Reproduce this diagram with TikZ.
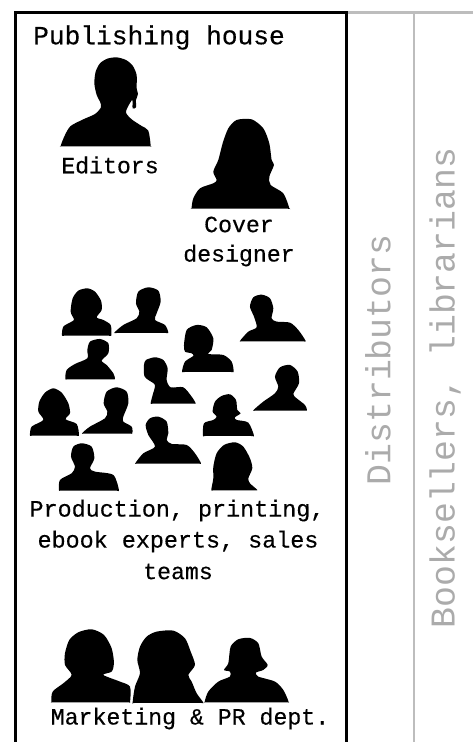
\documentclass[tikz,border=0pt]{standalone}
\usepackage{fontspec}
\setmonofont{Liberation Mono}
\newfontfamily\lblfont[FakeBold=0.35]{Liberation Mono}
\definecolor{rulegray}{HTML}{BDBDBD}
\definecolor{sidegray}{HTML}{ABABAB}
\tikzset{
  sil/.style={fill=black,draw=none},
  lbl/.style={inner sep=0pt,align=center,font=\lblfont\fontsize{23.2}{31}\selectfont,text=black},
  side/.style={inner sep=0pt,rotate=90,font=\ttfamily\fontsize{34.8}{36}\selectfont,text=sidegray},
  z1/.style={x=0.3333pt,y=-0.3333pt},
}
\newcommand{\silh}[1]{\fill[sil] plot[smooth cycle,tension=0.45] coordinates {#1};}
\begin{document}
\begin{tikzpicture}[x=1pt,y=-1pt]
\useasboundingbox (0,0) rectangle (473,742);
\fill[white] (0,0) rectangle (473,742);
% frames
\draw[rulegray,line width=2.6pt] (347,12.5) -- (473,12.5);
\draw[rulegray,line width=2.6pt] (414,12.5) -- (414,742);
\draw[black,line width=3pt] (15.5,742) -- (15.5,12.5) -- (346.5,12.5) -- (346.5,742);
% labels
\node[lbl,font=\lblfont\fontsize{26.2}{31}\selectfont] (title) at (159,37.5) {Publishing house};
\node[lbl] (editors) at (110,165) {Editors};
\node[lbl] (cover) at (239,224.5) {Cover};
\node[lbl] (designer) at (239,255.5) {designer};
\node[lbl,font=\lblfont\fontsize{23.4}{31}\selectfont] (prod) at (177,510.5) {Production, printing,};
\node[lbl,font=\lblfont\fontsize{23.4}{31}\selectfont] (ebook) at (178,541.5) {ebook experts, sales};
\node[lbl] (teams) at (178,571.5) {teams};
\node[lbl] (mkt) at (190,718.5) {Marketing \& PR dept.};
\node[side] (dist) at (378,360) {Distributors};
\node[side] (book) at (445,388) {Booksellers, librarians};
% silhouettes, top part
\begin{scope}[z1]
\silh{(182,438) (195,405) (212,378) (250,358) (285,342) (303,322) (300,305) (290,285) (283,250) (287,215) (300,190) (322,176) (350,172) (378,180) (398,197) (410,225) (410,265) (414,282) (408,300) (408,322) (398,325) (397,300) (385,318) (378,338) (395,358) (425,378) (445,392) (452,438) (445,439) (320,439) (190,439)}
\silh{(575,625) (580,595) (600,565) (640,550) (650,540) (640,515) (655,480) (668,430) (685,385) (710,360) (755,358) (790,385) (808,430) (815,480) (822,495) (808,530) (812,555) (850,580) (868,625) (860,626) (720,626) (582,626)}
\end{scope}
% silhouettes, middle group
\begin{scope}[z1,shift={(0,810)}]
\silh{(186,196) (190,170) (215,155) (222,148) (212,125) (218,85) (235,62) (262,55) (285,65) (303,92) (305,120) (290,142) (310,150) (332,165) (334,196) (325,197) (260,197) (195,197)}
\silh{(343,188) (370,165) (410,145) (418,125) (408,100) (415,65) (445,52) (475,62) (482,95) (470,130) (465,150) (495,165) (505,188) (495,189) (420,189) (352,189)}
\silh{(720,213) (745,185) (770,172) (762,140) (750,110) (760,82) (785,74) (810,85) (820,115) (815,145) (830,155) (870,158) (895,180) (917,213) (905,214) (820,214) (730,214)}
\silh{(546,305) (555,275) (580,258) (575,250) (555,245) (552,225) (560,180) (590,165) (620,172) (640,205) (635,240) (625,252) (670,255) (695,275) (701,305) (692,306) (620,306) (555,306)}
\silh{(196,327) (200,300) (225,282) (262,265) (262,240) (270,215) (300,207) (325,220) (325,250) (305,272) (320,285) (340,310) (345,327) (336,328) (270,328) (205,328)}
\silh{(452,400) (458,375) (465,345) (445,330) (433,318) (432,285) (438,270) (465,262) (490,270) (503,295) (500,330) (512,352) (550,352) (575,380) (587,400) (578,401) (520,401) (460,401)}
\silh{(760,421) (790,395) (825,370) (835,350) (825,320) (840,292) (870,285) (893,305) (897,340) (880,372) (890,385) (915,405) (921,421) (912,422) (840,422) (770,422)}
\silh{(90,496) (95,470) (130,450) (115,425) (118,395) (135,368) (160,355) (185,368) (205,400) (210,430) (197,448) (230,462) (237,496) (228,497) (160,497) (98,497)}
\silh{(246,490) (270,470) (315,445) (322,425) (311,400) (320,365) (350,352) (380,365) (385,400) (370,440) (370,455) (395,470) (397,490) (388,491) (320,491) (255,491)}
\silh{(609,497) (612,460) (640,450) (650,440) (638,425) (645,395) (665,378) (690,373) (708,390) (712,420) (722,430) (705,442) (710,450) (745,458) (762,497) (752,498) (680,498) (617,498)}
\silh{(406,580) (430,550) (465,530) (445,495) (437,465) (450,445) (475,440) (500,455) (505,490) (500,510) (515,522) (560,525) (585,550) (603,580) (592,581) (500,581) (415,581)}
\silh{(177,661) (180,630) (215,610) (225,590) (213,560) (220,530) (245,520) (275,530) (283,565) (270,595) (285,605) (340,615) (357,661) (347,662) (265,662) (185,662)}
\silh{(634,660) (640,625) (640,590) (650,550) (672,525) (705,517) (730,530) (750,565) (757,595) (745,625) (750,640) (772,660) (762,661) (700,661) (642,661)}
\end{scope}
% silhouettes, bottom group
\begin{scope}[z1,shift={(0,1500)}]
\silh{(154,606) (158,575) (190,550) (215,525) (195,495) (195,460) (208,420) (235,397) (275,388) (312,405) (335,445) (342,490) (335,515) (310,525) (360,545) (390,560) (390,606) (380,607) (270,607) (162,607)}
\silh{(398,608) (405,560) (420,520) (412,480) (420,440) (440,410) (470,395) (520,392) (555,415) (572,455) (585,495) (565,525) (575,545) (590,580) (610,608) (600,609) (500,609) (405,609)}
\silh{(614,606) (625,575) (655,545) (690,530) (690,515) (672,510) (685,490) (692,440) (715,418) (750,414) (775,430) (785,470) (803,495) (790,510) (768,518) (775,530) (825,545) (850,570) (866,606) (857,607) (740,607) (622,607)}
\end{scope}
\end{tikzpicture}
\end{document}
